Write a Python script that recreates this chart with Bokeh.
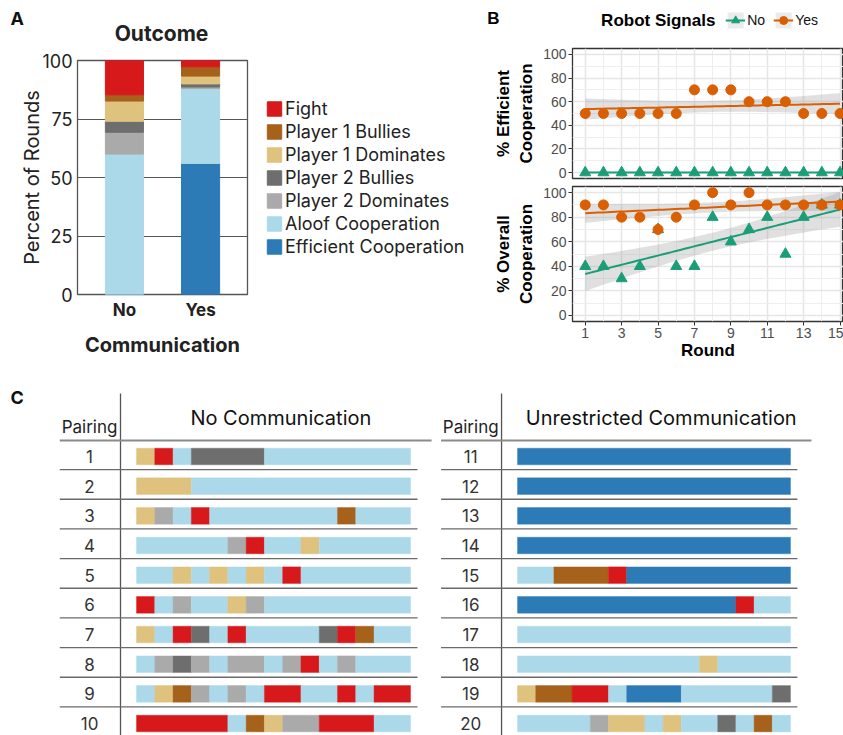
import numpy as np
from bokeh.plotting import figure
from bokeh.layouts import row, column
from bokeh.models import (ColumnDataSource, FactorRange, Range1d, Legend, LegendItem,
                          FixedTicker)
from bokeh.embed import file_html
from bokeh.resources import INLINE
from bokeh.core.properties import value

# ---------------- data ----------------
communication = ["No", "Yes"]
outcome_names = ["Efficient Cooperation", "Aloof Cooperation", "Player 2 Dominates",
                 "Player 2 Bullies", "Player 1 Dominates", "Player 1 Bullies", "Fight"]
outcome_codes = ["E", "A", "D2", "B2", "D1", "B1", "F"]
outcome_colors = ["#2c7bb6", "#abd9e9", "#aaaaaa", "#6e6e6e", "#dfc27d", "#a6611a", "#d7191c"]
percent_no = [0.0, 60.0, 9.33, 4.67, 8.67, 2.67, 14.67]
percent_yes = [56.0, 32.0, 0.67, 1.33, 3.33, 4.0, 2.67]

rounds = [1, 2, 3, 4, 5, 6, 7, 8, 9, 10, 11, 12, 13, 14, 15]
efficient_no = [0, 0, 0, 0, 0, 0, 0, 0, 0, 0, 0, 0, 0, 0, 0]
efficient_yes = [50, 50, 50, 50, 50, 50, 70, 70, 70, 60, 60, 60, 50, 50, 50]
overall_no = [40, 40, 30, 40, 70, 40, 40, 80, 60, 70, 80, 50, 80, 90, 90]
overall_yes = [90, 90, 80, 80, 70, 80, 90, 100, 90, 100, 90, 90, 90, 90, 90]
round_ticks = [1, 3, 5, 7, 9, 11, 13, 15]
signal_labels = ["No", "Yes"]

pairings_no = ["1", "2", "3", "4", "5", "6", "7", "8", "9", "10"]
sequences_no = [
    "D1 F A B2 B2 B2 B2 A A A A A A A A",
    "D1 D1 D1 A A A A A A A A A A A A",
    "D1 D2 A F A A A A A A A B1 A A A",
    "A A A A A D2 F A A D1 A A A A A",
    "A A D1 A D1 A D1 A F A A A A A A",
    "F A D2 A A D1 D2 A A A A A A A A",
    "D1 A F B2 A F A A A A B2 F B1 A A",
    "A D2 B2 D2 A D2 D2 A D2 F A D2 A A A",
    "A D1 B1 D2 A D2 A F F A A F A F F",
    "F F F F F A B1 D1 D2 D2 F F F A A",
]
pairings_yes = ["11", "12", "13", "14", "15", "16", "17", "18", "19", "20"]
sequences_yes = [
    "E E E E E E E E E E E E E E E",
    "E E E E E E E E E E E E E E E",
    "E E E E E E E E E E E E E E E",
    "E E E E E E E E E E E E E E E",
    "A A B1 B1 B1 F E E E E E E E E E",
    "E E E E E E E E E E E E F A A",
    "A A A A A A A A A A A A A A A",
    "A A A A A A A A A A D1 A A A A",
    "D1 B1 B1 F F A E E E A A A A A B2",
    "A A A A D2 D1 D1 A D1 A A B2 A B1 A",
]

FA = "Inter"
FB = "Liberation Sans"
color_of = dict(zip(outcome_codes, outcome_colors))


def blank(width, height, xr, yr, **kw):
    p = figure(width=width, height=height, x_range=xr, y_range=yr, output_backend="svg",
               toolbar_location=None, **kw)
    p.axis.visible = False
    p.grid.visible = False
    p.outline_line_color = None
    return p


# ---------------- panel A ----------------
headA = blank(480, 50, Range1d(0, 480), Range1d(50, 0), min_border=0)
headA.text(x=[10], y=[18], text=["A"], text_font=value(FA), text_font_size="18px",
           text_font_style="bold", text_align="left", text_baseline="middle",
           text_color="#111111")
headA.text(x=[161], y=[33], text=["Outcome"], text_font=value(FA), text_font_size="21px",
           text_font_style="bold", text_align="center", text_baseline="middle",
           text_color="#222222")

srcA = ColumnDataSource(dict(comm=communication,
                             **{c: [a, b] for c, a, b in zip(outcome_codes, percent_no, percent_yes)}))
pA = figure(width=255, height=322,
            x_range=FactorRange(factors=communication, range_padding=0.116,
                                range_padding_units="absolute"),
            y_range=Range1d(0, 100),
            min_border_left=77, min_border_right=8, min_border_top=10, min_border_bottom=78,
            output_backend="svg", toolbar_location=None)
rsA = pA.vbar_stack(outcome_codes, x="comm", width=0.5, color=outcome_colors, source=srcA)
pA.xgrid.visible = False
pA.ygrid.grid_line_color = "#555555"
pA.ygrid.grid_line_width = 1.2
pA.outline_line_color = "#555555"
pA.outline_line_width = 1.3
pA.yaxis.ticker = FixedTicker(ticks=[0, 25, 50, 75, 100])
for ax in (pA.xaxis[0], pA.yaxis[0]):
    ax.axis_line_color = None
    ax.major_tick_line_color = None
    ax.major_tick_out = 0
    ax.major_tick_in = 0
    ax.minor_tick_line_color = None
    ax.minor_tick_out = 0
    ax.major_label_text_font = FA
    ax.major_label_text_font_size = "18px"
    ax.major_label_text_color = "#222222"
    ax.axis_label_text_font = FA
    ax.axis_label_text_color = "#222222"
pA.yaxis.axis_label = "Percent of Rounds"
pA.yaxis.axis_label_text_font_size = "20px"
pA.yaxis.axis_label_text_font_style = "normal"
pA.yaxis.axis_label_standoff = -5
pA.yaxis.major_label_standoff = 5
pA.xaxis.axis_label = "Communication"
pA.xaxis.axis_label_text_font_size = "20px"
pA.xaxis.axis_label_text_font_style = "bold"
pA.xaxis.axis_label_standoff = 10
pA.xaxis.major_label_standoff = 5
pA.xaxis.major_label_text_font_style = "bold"
pA.xaxis.major_label_text_font_size = "17px"

legAfig = blank(225, 322, Range1d(0, 1), Range1d(0, 1), min_border_left=0,
                min_border_right=0, min_border_top=10, min_border_bottom=78)
leg_rs = [legAfig.quad(left=[2], right=[3], top=[3], bottom=[2], fill_color=c, line_color=c)
          for c in outcome_colors]
legA = Legend(items=[LegendItem(label=n, renderers=[r])
                     for n, r in reversed(list(zip(outcome_names, leg_rs)))],
              location="center_left", orientation="vertical",
              glyph_width=18, glyph_height=18, label_standoff=2, spacing=2,
              label_height=18, label_text_font=FA, label_text_font_size="18px",
              label_text_color="#222222", margin=10, padding=0,
              border_line_color=None, background_fill_alpha=0)
legAfig.add_layout(legA, "center")

panelA = column(headA, row(pA, legAfig))


# ---------------- panel B ----------------
def fit_band(x, y):
    x = np.asarray(x, float)
    y = np.asarray(y, float)
    b, a = np.polyfit(x, y, 1)
    xs = np.linspace(x.min(), x.max(), 60)
    yh = a + b * xs
    n = len(x)
    res = y - (a + b * x)
    s = np.sqrt((res ** 2).sum() / (n - 2))
    se = s * np.sqrt(1.0 / n + (xs - x.mean()) ** 2 / ((x - x.mean()) ** 2).sum())
    t = 2.160
    return xs, yh, yh - t * se, yh + t * se


GREEN = "#1b9e77"
ORANGE = "#d95f02"
MARK = {"No": ("triangle", 11, GREEN), "Yes": ("circle", 10, ORANGE)}
xrB = Range1d(0.3, 15.19)

headB = blank(363, 40, Range1d(0, 363), Range1d(40, 0), min_border_left=0,
              min_border_top=0, min_border_bottom=0, min_border_right=15)
headB.text(x=[7], y=[18], text=["B"], text_font=value(FB), text_font_size="17px",
           text_font_style="bold", text_align="left", text_baseline="middle",
           text_color="#000000")
headB.text(x=[245], y=[20], text=["Robot Signals"], text_font=value(FB),
           text_font_size="17px", text_font_style="bold", text_align="right",
           text_baseline="middle", text_color="#000000")
items = []
for lab in signal_labels:
    mk, ms, col = MARK[lab]
    bg = headB.quad(left=[-60], right=[-50], top=[-50], bottom=[-60], fill_color="#ebebeb",
                    line_color=None)
    ln = headB.line(x=[-60, -50], y=[-60, -60], line_color=col, line_width=2)
    sc = headB.scatter(x=[-60], y=[-60], marker=mk, size=ms, fill_color=col, line_color=col)
    items.append(LegendItem(label=lab, renderers=[bg, ln, sc]))
legB = Legend(items=items, location="top_right", orientation="horizontal",
              glyph_width=20, glyph_height=20, label_standoff=2, spacing=6,
              label_text_font=FB, label_text_font_size="14px", label_text_color="#111111",
              margin=10, padding=0, border_line_color=None, background_fill_alpha=0)
headB.add_layout(legB, "center")


def make_b(height, top, bottom, ylabel, ser_no, ser_yes, show_x):
    p = figure(width=363, height=height, x_range=xrB, y_range=Range1d(-5, 105),
               min_border_left=92, min_border_right=0, min_border_top=top,
               min_border_bottom=bottom, output_backend="svg", toolbar_location=None)
    p.outline_line_color = "#333333"
    p.outline_line_width = 1.3
    p.xaxis.ticker = FixedTicker(ticks=round_ticks, minor_ticks=[2, 4, 6, 8, 10, 12, 14])
    p.yaxis.ticker = FixedTicker(ticks=[0, 20, 40, 60, 80, 100], minor_ticks=[10, 30, 50, 70, 90])
    for g in (p.xgrid[0], p.ygrid[0]):
        g.grid_line_color = "#e6e6e6"
        g.grid_line_width = 1.6
        g.minor_grid_line_color = "#eeeeee"
        g.minor_grid_line_width = 1.0
    for ax in (p.xaxis[0], p.yaxis[0]):
        ax.axis_line_color = None
        ax.major_tick_line_color = "#333333"
        ax.major_tick_out = 4
        ax.major_tick_in = 0
        ax.minor_tick_line_color = None
        ax.major_label_text_font = FB
        ax.major_label_text_font_size = "14px"
        ax.major_label_text_color = "#4d4d4d"
        ax.major_label_standoff = 2
        ax.axis_label_text_font = FB
        ax.axis_label_text_font_size = "17px"
        ax.axis_label_text_font_style = "bold"
        ax.axis_label_text_color = "#000000"
    p.yaxis.axis_label = ylabel
    p.yaxis.axis_label_standoff = 4
    if show_x:
        p.xaxis.axis_label = "Round"
        p.xaxis.axis_label_standoff = 0
    else:
        p.xaxis.visible = False
    fits = {}
    for lab, ser in zip(signal_labels, (ser_no, ser_yes)):
        xs, yh, lo, hi = fit_band(rounds, ser)
        p.varea(x=xs, y1=lo, y2=hi, fill_color="#999999", fill_alpha=0.3)
        fits[lab] = (xs, yh, ser)
    for lab in signal_labels:
        mk, ms, col = MARK[lab]
        xs, yh, ser = fits[lab]
        p.line(x=xs, y=yh, line_color=col, line_width=2)
        p.scatter(x=rounds, y=ser, marker=mk, size=ms, fill_color=col, line_color=col)
    return p


pB1 = make_b(142, 8, 4, "% Efficient\nCooperation", efficient_no, efficient_yes, False)
pB2 = make_b(190, 4, 51, "% Overall\nCooperation", overall_no, overall_yes, True)
panelB = column(headB, column(pB1, pB2))


# ---------------- panel C ----------------
def runs(seq):
    codes = seq.split()
    out = []
    start = 0
    for j in range(1, len(codes) + 1):
        if j == len(codes) or codes[j] != codes[start]:
            out.append((start, j, codes[start]))
            start = j
    return out


def make_c(width, x_start, x_end, title, pairings, sequences, show_label):
    p = blank(width, 363, Range1d(x_start, x_end), Range1d(10.403, -1.831), min_border=0)
    left, right, top, bottom, colors = [], [], [], [], []
    for i, seq in enumerate(sequences):
        for s, e, code in runs(seq):
            left.append(s)
            right.append(e)
            top.append(i + 1 - 0.28)
            bottom.append(i + 1 + 0.28)
            colors.append(color_of[code])
    p.quad(left=left, right=right, top=top, bottom=bottom, fill_color=colors,
           line_color=colors, line_width=0.4)
    n = len(pairings)
    rows_y = list(range(1, n + 1))
    p.segment(x0=[-0.876], y0=[-1.123], x1=[-0.876], y1=[10.6], line_color="#555555",
              line_width=1.3)
    p.segment(x0=[-4.2], y0=[0.461], x1=[16.15], y1=[0.461], line_color="#8a8a8a",
              line_width=2)
    p.segment(x0=[-4.2] * (n - 1), y0=[k + 0.44 for k in range(1, n)],
              x1=[15.38] * (n - 1), y1=[k + 0.44 for k in range(1, n)],
              line_color="#6a6a6a", line_width=1.3)
    p.text(x=[-2.57] * n, y=rows_y, text=pairings, text_font=value(FA),
           text_font_size="17px", text_align="center", text_baseline="middle",
           text_color="#333333")
    p.text(x=[-2.57], y=[0.0], text=["Pairing"], text_font=value(FA),
           text_font_size="17px", text_align="center", text_baseline="middle",
           text_color="#222222")
    p.text(x=[7.9], y=[-0.314], text=[title], text_font=value(FA),
           text_font_size="20px", text_align="center", text_baseline="middle",
           text_color="#111111")
    if show_label:
        p.text(x=[-6.9], y=[-0.99], text=["C"], text_font=value(FA),
               text_font_size="18px", text_font_style="bold", text_align="left",
               text_baseline="middle", text_color="#111111")
    return p


pC1 = make_c(432, -7.444, 16.20, "No Communication", pairings_no, sequences_no, True)
pC2 = make_c(411, -4.670, 17.912, "Unrestricted Communication", pairings_yes, sequences_yes, False)

layout = column(row(panelA, panelB), row(pC1, pC2))
open("out.html", "w").write(file_html(layout, INLINE))
